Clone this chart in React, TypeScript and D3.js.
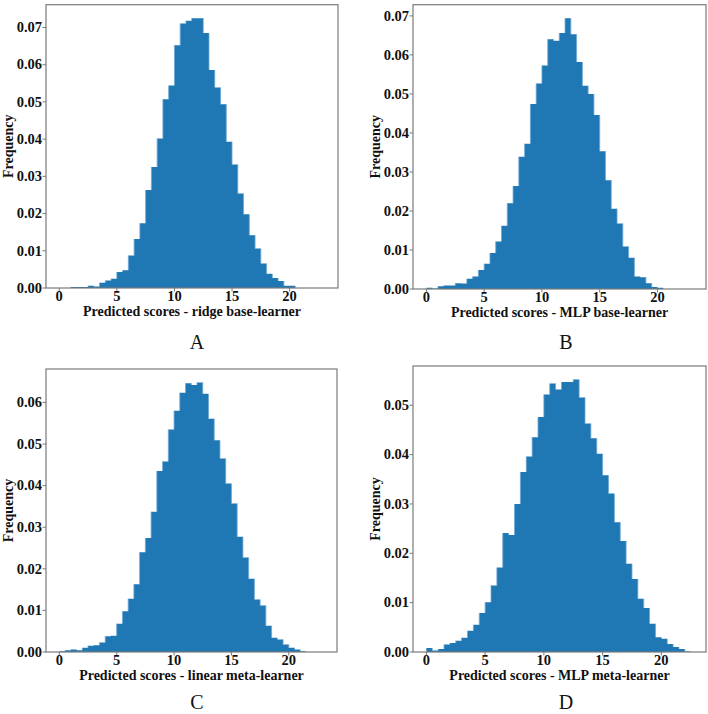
import React from "react";
import * as d3 from "d3";

// ---- data (histogram heights per bin, bins of width 0.5 starting at 0) ----
const BIN_WIDTH = 0.5;
const BIN_START = 0;

const freqRidgeBase = [0, 0, 0.0003, 0.0003, 0.0003, 0.0006, 0.0004, 0.0014, 0.002, 0.0025, 0.0043, 0.0048, 0.0087, 0.0132, 0.0174, 0.0263, 0.0325, 0.0402, 0.0507, 0.0544, 0.0652, 0.0711, 0.0718, 0.0725, 0.0725, 0.0685, 0.0586, 0.0539, 0.0494, 0.0393, 0.0332, 0.0254, 0.0198, 0.0142, 0.0106, 0.0066, 0.0038, 0.0027, 0.0019, 0.0006, 0.0006];
const freqMlpBase = [0.0003, 0.0001, 0.0007, 0.0009, 0.0009, 0.0015, 0.0014, 0.0026, 0.0032, 0.0049, 0.0065, 0.0092, 0.0122, 0.0162, 0.022, 0.0264, 0.0339, 0.0372, 0.0474, 0.0527, 0.0573, 0.064, 0.0636, 0.0656, 0.0694, 0.0653, 0.0582, 0.0521, 0.05, 0.0446, 0.0353, 0.0279, 0.0206, 0.0168, 0.0109, 0.008, 0.0032, 0.003, 0.0015, 0.0005, 0.0003];
const freqLinearMeta = [0.0002, 0.0004, 0.0006, 0.0004, 0.001, 0.0015, 0.0016, 0.0023, 0.0038, 0.0039, 0.0068, 0.0098, 0.0128, 0.0163, 0.024, 0.0274, 0.0337, 0.0435, 0.0458, 0.0535, 0.058, 0.0623, 0.0646, 0.0642, 0.0648, 0.0621, 0.0561, 0.0509, 0.0465, 0.0405, 0.0357, 0.0277, 0.0227, 0.0176, 0.0126, 0.0112, 0.0063, 0.0034, 0.003, 0.0018, 0.001, 0.0006, 0.0002];
const freqMlpMeta = [0.0008, 0.0003, 0.0006, 0.0015, 0.0018, 0.0023, 0.0029, 0.0043, 0.0055, 0.0079, 0.0101, 0.0135, 0.0171, 0.0241, 0.0237, 0.03, 0.0365, 0.0396, 0.0435, 0.0476, 0.0522, 0.0544, 0.0532, 0.0547, 0.0547, 0.0552, 0.0516, 0.0463, 0.0433, 0.0402, 0.0358, 0.0321, 0.0263, 0.0225, 0.0179, 0.0148, 0.0108, 0.0089, 0.0057, 0.003, 0.0027, 0.0016, 0.001, 0.0006, 0.0001];

const xTicks = [0, 5, 10, 15, 20];
const yTicksA = [0, 0.01, 0.02, 0.03, 0.04, 0.05, 0.06, 0.07];
const yTicksB = [0, 0.01, 0.02, 0.03, 0.04, 0.05, 0.06, 0.07];
const yTicksC = [0, 0.01, 0.02, 0.03, 0.04, 0.05, 0.06];
const yTicksD = [0, 0.01, 0.02, 0.03, 0.04, 0.05];

const xLabels = [
  "Predicted scores - ridge base-learner",
  "Predicted scores - MLP base-learner",
  "Predicted scores - linear meta-learner",
  "Predicted scores - MLP meta-learner",
];
const panelLetters = ["A", "B", "C", "D"];
const yLabel = "Frequency";

// ---- layout ----
const W = 708;
const H = 714;
const BAR = "#1f77b4";
const SPINE = "#7a7a7a";
const FONT = "Liberation Serif, DejaVu Serif, serif";

type PanelCfg = {
  data: number[];
  yTicks: number[];
  xLabel: string;
  letter: string;
  left: number;
  right: number;
  top: number;
  bottom: number;
  xDomain: [number, number];
  letterX: number;
  letterY: number;
};

const panels: PanelCfg[] = [
  { data: freqRidgeBase, yTicks: yTicksA, xLabel: xLabels[0], letter: panelLetters[0], left: 46, right: 338, top: 4.7, bottom: 288, xDomain: [-1.15, 24.2], letterX: 197, letterY: 349 },
  { data: freqMlpBase, yTicks: yTicksB, xLabel: xLabels[1], letter: panelLetters[1], left: 413, right: 706, top: 4.7, bottom: 289, xDomain: [-1.16, 24.2], letterX: 566, letterY: 349 },
  { data: freqLinearMeta, yTicks: yTicksC, xLabel: xLabels[2], letter: panelLetters[2], left: 46, right: 337, top: 369, bottom: 652, xDomain: [-1.16, 24.2], letterX: 197, letterY: 709 },
  { data: freqMlpMeta, yTicks: yTicksD, xLabel: xLabels[3], letter: panelLetters[3], left: 413, right: 706, top: 366, bottom: 652, xDomain: [-1.14, 23.8], letterX: 566, letterY: 709 },
];

function Panel({ p }: { p: PanelCfg }) {
  const x = d3.scaleLinear().domain(p.xDomain).range([p.left, p.right]);
  const yMax = (d3.max(p.data) ?? 0) * 1.05;
  const y = d3.scaleLinear().domain([0, yMax]).range([p.bottom, p.top]);
  const fmt = d3.format(".2f");
  const cx = (p.left + p.right) / 2;
  const cy = (p.top + p.bottom) / 2;

  // histogram outline as one filled step path (no seams between bars)
  const path = d3.path();
  const n = p.data.length;
  path.moveTo(x(BIN_START), y(0));
  p.data.forEach((v, i) => {
    const x0 = BIN_START + i * BIN_WIDTH;
    path.lineTo(x(x0), y(v));
    path.lineTo(x(x0 + BIN_WIDTH), y(v));
  });
  path.lineTo(x(BIN_START + n * BIN_WIDTH), y(0));
  path.closePath();

  return (
    <g>
      <path d={path.toString()} fill={BAR} />
      {p.data.map((v, i) => {
        if (i === 0) return null;
        const xe = BIN_START + i * BIN_WIDTH;
        const prev = p.data[i - 1];
        const lo = Math.min(prev, v);
        const hi = Math.max(prev, v);
        if (hi - lo <= 0) return null;
        return <line key={i} x1={x(xe)} x2={x(xe)} y1={y(lo)} y2={y(hi)} stroke="#6fa8d6" strokeWidth={0.8} />;
      })}
      <rect x={p.left} y={p.top} width={p.right - p.left} height={p.bottom - p.top} fill="none" stroke={SPINE} strokeWidth={1.2} />
      {xTicks.map((t) => (
        <g key={"x" + t}>
          <line x1={x(t)} x2={x(t)} y1={p.bottom} y2={p.bottom + 3.5} stroke={SPINE} strokeWidth={1} />
          <text x={x(t)} y={p.bottom + 13} textAnchor="middle" style={{ fontFamily: FONT }} fontWeight="bold" fontSize={14.5} fill="#111">
            {t}
          </text>
        </g>
      ))}
      {p.yTicks.map((t) => (
        <g key={"y" + t}>
          <line x1={p.left - 3.5} x2={p.left} y1={y(t)} y2={y(t)} stroke={SPINE} strokeWidth={1} />
          <text x={p.left - 4} y={y(t)} dy="0.33em" textAnchor="end" style={{ fontFamily: FONT }} fontWeight="bold" fontSize={14.5} fill="#111">
            {fmt(t)}
          </text>
        </g>
      ))}
      <text x={cx} y={p.bottom + 28} textAnchor="middle" style={{ fontFamily: FONT }} fontWeight="bold" fontSize={14} fill="#111">
        {p.xLabel}
      </text>
      <text
        transform={`translate(${p.left - 33.5},${cy}) rotate(-90)`}
        textAnchor="middle"
        style={{ fontFamily: FONT }}
        fontWeight="bold"
        fontSize={14}
        fill="#111"
      >
        {yLabel}
      </text>
      <text x={p.letterX} y={p.letterY} textAnchor="middle" style={{ fontFamily: FONT }} fontSize={20} fill="#111">
        {p.letter}
      </text>
    </g>
  );
}

export default function App() {
  return (
    <svg
      width={W}
      height={H}
      viewBox={`0 0 ${W} ${H}`}
      style={{ position: "absolute", left: 0, top: 0, background: "#fff" }}
    >
      <rect x={0} y={0} width={W} height={H} fill="#fff" />
      {panels.map((p, i) => (
        <Panel key={i} p={p} />
      ))}
    </svg>
  );
}
